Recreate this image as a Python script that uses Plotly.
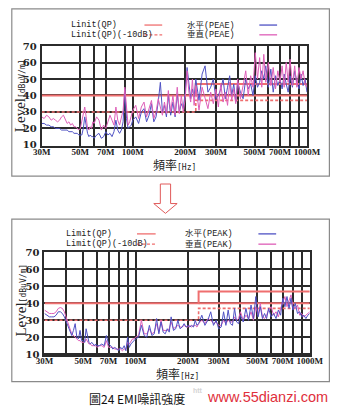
import plotly.graph_objects as go
import math

# ---------------- data ----------------
freq_mhz = [30, 31, 32, 33, 34, 35, 36, 37, 38, 39, 40, 41, 42, 43, 44, 45, 46, 47, 48, 49,
            50, 51, 52, 53, 54, 55, 56, 57, 58, 59, 60, 62, 64, 66, 68, 70, 72, 74, 76, 78,
            80, 82, 84, 86, 88, 90, 92, 94, 96, 98, 100, 104, 108, 112, 116, 120, 124, 128, 132, 136,
            140, 144, 148, 152, 156, 160, 165, 170, 175, 180, 185, 190, 195, 200, 205, 210, 215, 220, 225, 230,
            240, 250, 260, 270, 280, 290, 300, 310, 320, 330, 340, 350, 360, 370, 380, 390, 400, 415, 430, 445,
            460, 475, 490, 505, 520, 535, 550, 565, 580, 600, 620, 640, 660, 680, 700, 720, 740, 760, 780, 800,
            825, 850, 875, 900, 925, 950, 975, 1000]

# top chart (before)
top_horizontal = [23, 23, 22, 22, 21, 21, 20, 20, 20, 19, 19, 19, 19, 18, 18, 18, 17, 17, 17, 16,
                  16, 16, 20, 27, 22, 17, 15, 16, 15, 15, 14, 16, 17, 14, 15, 18, 16, 17, 15, 18,
                  25, 19, 17, 19, 24, 44, 26, 20, 21, 22, 25, 27, 23, 30, 32, 24, 28, 35, 24, 27,
                  36, 48, 30, 34, 27, 40, 28, 36, 27, 41, 30, 35, 32, 42, 57, 47, 38, 44, 39, 50,
                  37, 53, 58, 42, 45, 50, 38, 40, 44, 50, 38, 45, 52, 40, 47, 36, 48, 42, 38, 50,
                  44, 47, 40, 52, 45, 48, 55, 50, 58, 45, 56, 42, 52, 46, 50, 44, 53, 47, 42, 52,
                  45, 55, 48, 44, 53, 46, 50, 42]
top_vertical = [27, 26, 28, 27, 25, 26, 25, 24, 25, 27, 28, 25, 23, 24, 22, 23, 21, 21, 20, 19,
                20, 25, 30, 33, 27, 20, 19, 21, 20, 24, 23, 27, 25, 19, 22, 20, 24, 28, 25, 22,
                33, 25, 22, 26, 31, 45, 30, 22, 24, 28, 31, 34, 26, 33, 36, 27, 32, 37, 26, 30,
                38, 32, 28, 36, 29, 43, 30, 40, 28, 45, 29, 40, 30, 38, 55, 42, 36, 50, 34, 46,
                31, 45, 38, 32, 42, 35, 44, 33, 47, 36, 42, 34, 48, 37, 44, 35, 50, 38, 46, 55,
                40, 52, 45, 66, 50, 63, 45, 65, 48, 60, 46, 57, 44, 55, 48, 58, 45, 60, 48, 62,
                46, 58, 45, 57, 50, 55, 47, 45]

# bottom chart (after)
bot_horizontal = [34, 33, 32, 32, 32, 33, 35, 35, 34, 32, 29, 26, 23, 21, 24, 28, 20, 19, 24, 18,
                  18, 17, 25, 20, 17, 16, 17, 16, 15, 16, 15, 15, 16, 15, 21, 16, 15, 13, 14, 13,
                  12, 14, 13, 15, 12, 20, 14, 16, 17, 18, 19, 20, 27, 21, 20, 27, 21, 22, 31, 22,
                  29, 23, 22, 25, 23, 32, 24, 25, 30, 25, 26, 28, 26, 27, 26, 27, 26, 30, 27, 28,
                  33, 27, 30, 35, 27, 30, 25, 26, 35, 27, 36, 28, 27, 37, 29, 28, 33, 29, 37, 30,
                  39, 31, 44, 32, 38, 31, 34, 31, 37, 32, 34, 31, 36, 33, 43, 38, 44, 37, 43, 36,
                  40, 34, 35, 32, 33, 31, 33, 34]
bot_vertical = [36, 35, 34, 34, 34, 35, 37, 37.5, 37, 35, 32, 29, 25, 22, 21, 20, 19, 18, 18, 17,
                17, 17, 19, 17, 16, 16, 15, 15, 15, 15, 14, 15, 15, 14, 18, 14, 14, 14, 13, 13,
                13, 13, 12, 13, 13, 17, 16, 18, 19, 19, 20, 21, 30, 22, 22, 25, 22, 23, 28, 23,
                30, 24, 24, 24, 25, 29, 25, 26, 27, 26, 26, 27, 26, 26, 27, 26, 27, 27, 26, 28,
                30, 28, 31, 30, 28, 29, 27, 27, 30, 28, 30, 29, 29, 32, 30, 31, 35, 30, 33, 31,
                35, 30, 38, 33, 40, 32, 31, 33, 36, 38, 33, 35, 32, 37, 40, 44, 38, 42, 45, 38,
                37, 39, 33, 34, 32, 33, 34, 35]

limit_freq = [30, 230, 230, 1000]
limit_qp = [40, 40, 47, 47]
limit_qp_10 = [30, 30, 37, 37]
limit_base_freq = [230, 1000]
limit_base = [40, 40]

y_ticks = [10, 20, 30, 40, 50, 60, 70]
top_grid_x = [30, 50, 60, 70, 90, 100, 200, 300, 400, 500, 600, 700, 800, 900, 1000]
bot_grid_x = [30, 40, 50, 60, 70, 80, 90, 100, 200, 300, 400, 500, 600, 700, 800, 900, 1000]
labelled_x = {30: "30M", 50: "50M", 70: "70M", 100: "100M", 200: "200M", 300: "300M",
              500: "500M", 700: "700M", 1000: "1000M"}

top_legend = ["Linit(QP)", "Linit(QP)(-10dB)", "水平(PEAE)", "垂直(PEAE)"]
bot_legend = ["Limit(QP)", "Limit(QP)(-10dB)", "水平(PEAK)", "垂直(PEAK)"]

# ---------------- styling ----------------
W, H = 349, 412
BLUE = "#4f52c4"
PINK = "#de5fb8"
RED = "#ef6f6f"
GRID = "#2b2b2b"
TICKFONT = dict(family="Liberation Serif", size=9, color="#222", weight="bold")
MONO = "Liberation Mono"


def xp(px):
    return px / W


def yp(py):
    return 1 - py / H


fig = go.Figure()


def add_chart(xa, ya, h_vals, v_vals, blue_top):
    xs = "x" if xa == 1 else "x%d" % xa
    ys = "y" if ya == 1 else "y%d" % ya
    common = dict(xaxis=xs, yaxis=ys, mode="lines", showlegend=False, hoverinfo="skip")
    fig.add_trace(go.Scatter(x=limit_base_freq, y=limit_base, line=dict(color=RED, width=2), **common))
    fig.add_trace(go.Scatter(x=limit_freq, y=limit_qp, line=dict(color=RED, width=2), **common))
    fig.add_trace(go.Scatter(x=limit_freq, y=limit_qp_10, line=dict(color=RED, width=1.6, dash="3px,2px"), **common))
    order = [(v_vals, PINK), (h_vals, BLUE)] if blue_top else [(h_vals, BLUE), (v_vals, PINK)]
    for vals, col in order:
        fig.add_trace(go.Scatter(x=freq_mhz, y=vals, line=dict(color=col, width=1), **common))


add_chart(1, 1, top_horizontal, top_vertical, blue_top=False)
add_chart(2, 2, bot_horizontal, bot_vertical, blue_top=True)


def xaxis_cfg(domain, grid):
    return dict(type="log", range=[math.log10(30), math.log10(1000)], domain=domain,
                tickvals=grid, ticktext=[labelled_x.get(v, "") for v in grid], tickangle=0,
                showgrid=True, gridcolor=GRID, gridwidth=1.6, showline=True, mirror=True,
                linecolor=GRID, linewidth=2, ticks="", tickfont=TICKFONT, zeroline=False,
                ticklabelstandoff=-4)


def yaxis_cfg(domain, anchor):
    return dict(range=[9.4, 70], domain=domain, tickvals=y_ticks, showgrid=True, gridcolor=GRID,
                gridwidth=1.6, showline=True, mirror=True, linecolor=GRID, linewidth=2, ticks="",
                tickfont=dict(family="DejaVu Serif", size=10, color="#222", weight="bold"),
                zeroline=False, anchor=anchor, ticklabelstandoff=1)


layout = dict(
    width=W, height=H, margin=dict(l=0, r=0, t=0, b=0),
    paper_bgcolor="white", plot_bgcolor="white",
    xaxis=dict(xaxis_cfg([xp(35), xp(319)], top_grid_x), anchor="y"),
    yaxis=yaxis_cfg([yp(144), yp(42)], "x"),
    xaxis2=dict(xaxis_cfg([xp(38), xp(322)], bot_grid_x), anchor="y2"),
    yaxis2=yaxis_cfg([yp(358), yp(253)], "x2"),
)
fig.update_layout(**layout)

shapes = []
ann = []

# panel frames
for (x0, y0, x1, y1) in [(3, 4, 343, 175), (3, 219, 343, 385)]:
    shapes.append(dict(type="rect", xref="paper", yref="paper", x0=xp(x0), x1=xp(x1),
                       y0=yp(y1), y1=yp(y0), line=dict(color="#8a8a8a", width=1.2)))


def legend_block(labels, tx, ty1, ty2, lx0, lx1, rx, bx0, bx1):
    # labels: qp, qp-10, horiz, vert
    ann.append(dict(x=xp(tx), y=yp(ty1), text=labels[0]))
    ann.append(dict(x=xp(tx), y=yp(ty2), text=labels[1]))
    ann.append(dict(x=xp(rx), y=yp(ty1), text=labels[2]))
    ann.append(dict(x=xp(rx), y=yp(ty2), text=labels[3]))
    shapes.append(dict(type="line", xref="paper", yref="paper", x0=xp(lx0), x1=xp(lx1),
                       y0=yp(ty1), y1=yp(ty1), line=dict(color=RED, width=1.3)))
    shapes.append(dict(type="line", xref="paper", yref="paper", x0=xp(lx0), x1=xp(lx1),
                       y0=yp(ty2), y1=yp(ty2), line=dict(color=RED, width=1.2, dash="3px,2px")))
    shapes.append(dict(type="line", xref="paper", yref="paper", x0=xp(bx0), x1=xp(bx1),
                       y0=yp(ty1), y1=yp(ty1), line=dict(color=BLUE, width=1.3)))
    shapes.append(dict(type="line", xref="paper", yref="paper", x0=xp(bx0), x1=xp(bx1),
                       y0=yp(ty2), y1=yp(ty2), line=dict(color=PINK, width=1.3)))


legend_block(top_legend, 64, 20.5, 30.5, 145, 164, 188, 268, 287)
legend_block(bot_legend, 59, 234, 244.5, 137, 157, 186, 267, 286)

for a in ann:
    a.update(xref="paper", yref="paper", xanchor="left", yanchor="middle", showarrow=False,
             font=dict(family=MONO + ", Noto Sans CJK TC", size=8.5, color="#222"))

# y-axis titles
for (cx, cy) in [(12, 93), (13, 302)]:
    ann.append(dict(x=xp(cx), y=yp(cy), xref="paper", yref="paper", showarrow=False,
                    textangle=-90, xanchor="center", yanchor="middle",
                    text="Level<span style='font-size:8px;font-family:DejaVu Sans Mono'>[dBuV/m]</span>",
                    font=dict(family="Liberation Serif", size=15, color="#222")))

# x-axis titles
for (cx, cy) in [(177, 163), (180, 377)]:
    ann.append(dict(x=xp(cx), y=yp(cy), xref="paper", yref="paper", showarrow=False,
                    xanchor="center", yanchor="middle",
                    text="頻率<span style='font-size:8px;font-family:DejaVu Sans Mono'>[Hz]</span>",
                    font=dict(family="Noto Sans CJK TC", size=12, color="#222")))

# arrow between the charts
arrow_pts = [(162, 183), (173, 183), (173, 203), (180, 203), (167.5, 213), (155, 203), (162, 203)]
path = "M " + " L ".join("%.4f,%.4f" % (xp(x), yp(y)) for x, y in arrow_pts) + " Z"
shapes.append(dict(type="path", xref="paper", yref="paper", path=path,
                   line=dict(color="#e05a5a", width=1), fillcolor="white"))

# caption + watermark
ann.append(dict(x=xp(84), y=yp(402), xref="paper", yref="paper", showarrow=False,
                xanchor="left", yanchor="middle", text="圖24 EMI噪訊強度",
                font=dict(family="Noto Sans CJK TC", size=12, color="#111")))
ann.append(dict(x=xp(202), y=yp(394), xref="paper", yref="paper", showarrow=False,
                xanchor="center", yanchor="middle", text="<b>htt</b>",
                font=dict(family="Liberation Sans", size=7, color="#d4d4d4")))
ann.append(dict(x=xp(344), y=yp(401), xref="paper", yref="paper", showarrow=False,
                xanchor="right", yanchor="middle", text="www.55dianzi.com",
                font=dict(family="Liberation Sans", size=14.5, color="#e0303c")))

fig.update_layout(shapes=shapes, annotations=ann)
fig.write_html("out.html")
